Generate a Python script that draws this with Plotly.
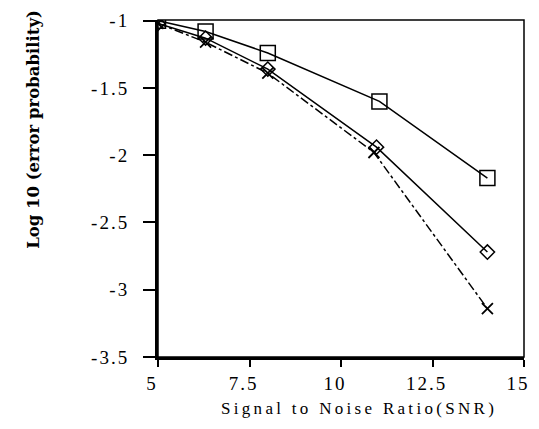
import plotly.graph_objects as go

snr = [5, 6.3, 8, 11.05, 14]
square_vals = [-1.0, -1.08, -1.24, -1.6, -2.17]
diamond_snr = [5, 6.3, 8, 10.97, 14]
diamond_vals = [-1.02, -1.13, -1.36, -1.94, -2.72]
cross_snr = [5, 6.3, 8, 10.9, 14]
cross_vals = [-1.02, -1.16, -1.39, -1.98, -3.14]
x_ticks = [5, 7.5, 10, 12.5, 15]
y_ticks = [-1, -1.5, -2, -2.5, -3, -3.5]

FONT = "Liberation Serif"


def spaced(v, px=2):
    return f'<span style="letter-spacing:{px}px">{v}</span>'


fig = go.Figure()
fig.add_trace(go.Scatter(
    x=snr, y=square_vals, mode="lines+markers",
    line=dict(color="black", width=1.5),
    marker=dict(symbol="square-open", size=15, color="black", line=dict(width=1.5)),
    showlegend=False))
fig.add_trace(go.Scatter(
    x=diamond_snr, y=diamond_vals, mode="lines+markers",
    line=dict(color="black", width=1.5),
    marker=dict(symbol="diamond-open", size=11, color="black", line=dict(width=1.5)),
    showlegend=False))
fig.add_trace(go.Scatter(
    x=cross_snr, y=cross_vals, mode="lines+markers",
    line=dict(color="black", width=1.5, dash="dashdot"),
    marker=dict(symbol="x-thin-open", size=11, color="black", line=dict(width=1.8)),
    showlegend=False))

# page body has an 8px default margin, so the figure is offset by 8px;
# keep the figure inside the body so the page never overflows the window
fig.update_layout(
    width=523, height=413,
    margin=dict(l=150, r=1, t=12, b=64),
    paper_bgcolor="white", plot_bgcolor="white",
    font=dict(family=FONT, size=16, color="black"),
    xaxis=dict(range=[5, 15.0], tickvals=x_ticks, ticktext=[spaced(v) for v in x_ticks],
               showgrid=False, zeroline=False, showline=True, linecolor="black", linewidth=3,
               ticks="outside", ticklen=7, tickwidth=1.5, tickcolor="black",
               ticklabeloverflow="allow", ticklabelshift=-6,
               tickfont=dict(family=FONT, size=19)),
    yaxis=dict(range=[-3.5, -0.995], tickvals=y_ticks, ticktext=[spaced(v) for v in y_ticks],
               showgrid=False, zeroline=False, showline=True, linecolor="black", linewidth=3,
               ticks="outside", ticklen=12, tickwidth=1.5, tickcolor="black",
               ticklabelstandoff=10,
               tickfont=dict(family=FONT, size=19)),
    shapes=[dict(type="rect", xref="paper", yref="paper", x0=0, x1=1, y0=0, y1=1,
                 line=dict(color="black", width=1.5), layer="below")],
    annotations=[
        dict(text="Log 10 (error probability)", textangle=-90, xref="paper", yref="paper",
             x=-0.339, y=0.677, showarrow=False, xanchor="center", yanchor="middle",
             font=dict(family="DejaVu Serif", size=16.5, color="black", weight="bold")),
        dict(text=spaced("Signal to Noise Ratio(SNR)", 3.3),
             xref="paper", yref="paper",
             x=0.548, y=-0.188, showarrow=False, xanchor="center", yanchor="bottom",
             font=dict(family=FONT, size=17, color="black")),
    ],
)

fig.write_html("out.html")
